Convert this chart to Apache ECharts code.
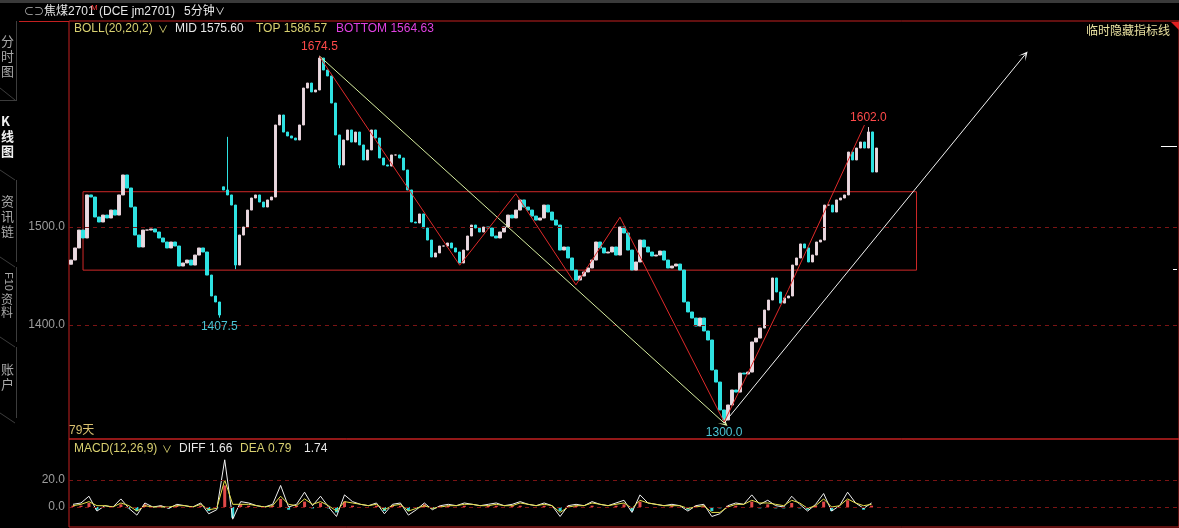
<!DOCTYPE html>
<html><head><meta charset="utf-8">
<script src="https://cdn.jsdelivr.net/npm/echarts@6/dist/echarts.min.js"></script>
<style>html,body{margin:0;padding:0;background:#000;overflow:hidden}#c{width:1179px;height:528px}</style>
</head><body><div id="c"></div>
<script>
// ---- price data (closes, one candle per slot) ----
const closes = [
1466.3,1478.6,1496.9,1488.8,1532.7,1530.6,1510.2,1505.1,1512.2,1509.2,
1517.3,1512.2,1532.7,1553.1,1539.8,1520.4,1491.8,1479.6,1496.9,1496.9,
1498.0,1494.9,1488.8,1484.7,1478.6,1484.7,1480.6,1460.2,1463.3,1466.3,
1461.2,1471.4,1478.6,1474.5,1451.0,1429.6,1423.5,1410.2,1537.8,1532.7,
1522.4,1461.2,1491.8,1500.0,1517.3,1529.6,1532.7,1525.5,1520.4,1527.6,
1530.6,1604.1,1614.3,1596.9,1592.9,1590.8,1588.8,1604.1,1641.8,1646.9,
1637.8,1639.8,1672.4,1660.2,1654.1,1626.5,1593.9,1563.3,1588.8,1599.0,
1586.7,1596.9,1583.7,1568.4,1578.6,1599.0,1590.8,1570.4,1563.3,1562.2,
1573.5,1573.5,1570.4,1558.2,1537.8,1505.1,1504.1,1513.3,1499.0,1486.7,
1469.4,1473.5,1480.6,1480.6,1483.7,1478.6,1474.5,1463.3,1476.5,1490.8,
1502.0,1499.0,1494.9,1500.0,1499.0,1490.8,1488.8,1494.9,1500.0,1512.2,
1509.2,1517.3,1527.6,1520.4,1517.3,1511.2,1507.1,1509.2,1522.4,1515.3,
1507.1,1502.0,1476.5,1479.6,1468.4,1456.1,1445.9,1450.0,1454.1,1458.2,
1466.3,1484.7,1478.6,1473.5,1474.5,1479.6,1471.4,1500.0,1493.9,1476.5,
1456.1,1464.3,1486.7,1479.6,1474.5,1470.4,1471.4,1475.5,1466.3,1458.2,
1460.2,1462.2,1456.1,1423.5,1413.3,1407.1,1399.0,1407.1,1393.9,1384.7,
1354.1,1341.8,1313.3,1303.1,1318.4,1333.7,1331.6,1351.0,1350.0,1352.0,
1382.7,1386.7,1396.9,1415.3,1425.5,1448.0,1433.7,1422.4,1427.6,1429.6,
1461.2,1468.4,1482.7,1478.6,1464.3,1471.4,1484.7,1486.7,1522.4,1522.4,
1515.3,1527.6,1529.6,1532.7,1576.5,1568.4,1580.6,1586.7,1580.6,1597.0,
1556.1,1580.6
];
const openOverrideIdx = [0, 38];
const openOverrideVal = [1462.0, 1541.0];
const wickIdx = [37, 39, 41, 62, 67, 163, 199];
const wickVal = [1407.5, 1592.0, 1457.0, 1674.5, 1560.0, 1300.0, 1602.0];

// ---- axis ticks ----
const priceTicks = [1400, 1500];
const macdTicks = [0, 20];

// ---- annotations (data space) ----
const labelIdx = [62, 37, 163, 199];
const labelVal = [1674.5, 1407.5, 1300.0, 1602.0];
const downLine = [[62, 1674.5], [163, 1300]];
const upLine = [[163, 1300], [238, 1675.5]];
const zigzag = [[62,1674],[97,1461],[111,1534],[126,1441],[137,1510],[163,1301],[179,1436],[198,1604]];
const boxIdx = [3, 211];
const boxPrice = [1536, 1456];
const rightMarks = [1582.7, 1457.1];

// ---- indicator readouts ----
const bollValues = [1575.60, 1586.57, 1564.63];
const macdValues = [1.66, 0.79, 1.74];

// ---- MACD (one value per macd slot) ----
const diff = [
2,3,8,-3,1,0,6,-1,-6,3,
0,1,-1,2,1,0,3,-5,-2,35,
-9,4,3,1,0,2,16,0,2,11,
1,8,0,-7,9,4,2,1,3,-5,
2,3,-6,-2,3,-2,1,2,1,3,
2,1,2,3,1,2,4,2,1,3,
1,-7,1,2,1,4,2,1,3,5,
-4,9,3,2,1,2,1,-3,1,2,
-7,-5,1,3,2,9,2,5,1,0,
8,2,-3,2,10,-3,1,11,3,-1,
3];
const dea = [
1,2,4,1,1,0,3,1,-3,1,
0,0,0,1,1,0,2,-2,-1,20,
2,2,2,1,0,1,8,2,1,6,
2,4,1,-3,4,3,2,1,2,-2,
1,2,-3,-1,1,-1,0,1,1,2,
2,1,1,2,1,1,3,2,1,2,
1,-4,0,1,1,3,2,1,2,3,
-1,5,3,2,1,1,1,-1,0,1,
-4,-4,0,2,2,5,3,3,2,1,
5,3,-1,1,6,0,1,6,3,1,
2];
const hist = [
1,1,3,-2,0,0,2,-1,-3,2,
0,1,-1,1,0,0,1,-3,-1,16,
-8,2,1,0,0,1,6,-2,1,4,
-1,3,-1,-4,4,1,0,0,1,-3,
1,1,-3,-1,2,-1,1,1,0,1,
0,0,1,1,0,1,1,0,0,1,
0,-3,1,1,0,1,0,0,1,2,
-3,4,0,0,0,1,0,-2,1,1,
-3,-1,1,1,0,4,-1,2,-1,-1,
3,-1,-2,1,4,-3,0,5,0,-2,
1];

const slotCount = 277;
const macdSlotCount = 139;
const slots = Array.from({length: slotCount}, (_, i) => String(i));
const macdSlots = Array.from({length: macdSlotCount}, (_, i) => String(i));

const ohlc = closes.map((c, i) => {
  let o = i > 0 ? closes[i - 1] : c;
  const k = openOverrideIdx.indexOf(i);
  if (k >= 0) o = openOverrideVal[k];
  let h = Math.max(o, c), l = Math.min(o, c);
  const w = wickIdx.indexOf(i);
  if (w >= 0) { if (wickVal[w] > h) h = wickVal[w]; else if (wickVal[w] < l) l = wickVal[w]; }
  return [o, c, l, h];
});

const FONT = '"Liberation Sans","Noto Sans CJK SC",sans-serif';
const CJK = '"Noto Sans CJK SC",sans-serif';
const arrowPath = 'path://M5,0 L10,10 L5,4 L0,10 Z';
const RED = '#c42020';
const GRIDRED = '#7a1414';

const tickLabel = (col) => ({show: true, position: 'start', distance: 4, color: col, fontSize: 12, fontFamily: FONT,
  formatter: p => Number(p.value).toFixed(1)});

const solid = (color) => ({type: 'solid', color: color, width: 1});
const markLines = [];
priceTicks.forEach(v => markLines.push({yAxis: v, lineStyle: {type: [4, 4], color: GRIDRED, width: 1}, label: tickLabel('#9c9c9c')}));
markLines.push([{coord: downLine[0], symbol: 'none'}, {coord: downLine[1], symbol: arrowPath, symbolSize: 9, lineStyle: solid('#d8eea0')}]);
markLines.push([{coord: upLine[0], symbol: 'none'}, {coord: upLine[1], symbol: arrowPath, symbolSize: 9, lineStyle: solid('#f2f2f2')}]);
for (let i = 0; i < zigzag.length - 1; i++) {
  markLines.push([{coord: zigzag[i], symbol: 'none'}, {coord: zigzag[i + 1], symbol: 'none', lineStyle: solid('#e02a2a')}]);
}
markLines.push([{coord: [272, rightMarks[0]], symbol: 'none'}, {coord: [276, rightMarks[0]], symbol: 'none', lineStyle: solid('#ffffff')}]);
markLines.push([{coord: [275, rightMarks[1]], symbol: 'none'}, {coord: [276, rightMarks[1]], symbol: 'none', lineStyle: solid('#ffffff')}]);

const labelColors = ['#ff4a4a', '#4cc4d4', '#4cc4d4', '#ff4a4a'];
const labelPos = ['top', 'bottom', 'bottom', 'top'];
const markPoints = labelIdx.map((ix, k) => ({
  coord: [ix, labelVal[k]], value: labelVal[k], symbol: 'circle', symbolSize: 1,
  itemStyle: {color: 'rgba(0,0,0,0)'},
  label: {show: true, position: labelPos[k], distance: 3, color: labelColors[k], fontSize: 12, fontFamily: FONT,
    formatter: p => Number(p.value).toFixed(1)}
}));

const macdMarkLines = macdTicks.map(v => ({yAxis: v, lineStyle: {type: [4, 4], color: GRIDRED, width: 1}, label: tickLabel('#9c9c9c')}));

function txt(x, y, text, fill, size, opts) {
  return Object.assign({type: 'text', x: x, y: y, silent: true, z: 100,
    style: Object.assign({text: text, fill: fill, fontSize: size || 12, fontFamily: FONT, verticalAlign: 'middle', textAlign: 'left'}, (opts && opts.style) || {})},
    (opts && opts.el) || {});
}
function ln(x1, y1, x2, y2, col) {
  return {type: 'line', silent: true, z: 100, shape: {x1: x1, y1: y1, x2: x2, y2: y2}, style: {stroke: col, lineWidth: 1}};
}

const graphics = [
  {type: 'rect', silent: true, z: 99, shape: {x: 0, y: 0, width: 1179, height: 3}, style: {fill: '#3a3a3a'}},
  ln(19, 21.5, 69, 21.5, RED),
  // title bar
  txt(24, 12, '⊂⊃', '#b8b8b8', 10),
  txt(44, 12, '焦煤2701', '#e6e6e6', 12),
  txt(91, 8, 'M', '#ff4040', 8),
  txt(99, 12, '(DCE jm2701)', '#e6e6e6', 12),
  txt(184, 12, '5分钟', '#e6e6e6', 12),
  txt(215, 12, '∨', '#e6e6e6', 10),
  // BOLL legend
  txt(74, 29, 'BOLL(20,20,2)', '#d8d070', 12),
  txt(158, 30, '∨', '#d8d070', 10),
  txt(175, 29, 'MID ' + bollValues[0].toFixed(2), '#e8e8e8', 12),
  txt(256, 29, 'TOP ' + bollValues[1].toFixed(2), '#d8d070', 12),
  txt(336, 29, 'BOTTOM ' + bollValues[2].toFixed(2), '#e040e0', 12),
  txt(1170, 30, '临时隐藏指标线', '#e8e0a0', 12, {style: {fontFamily: CJK, textAlign: 'right'}}),
  {type: 'polygon', silent: true, z: 100, shape: {points: [[1171, 22], [1179, 22], [1179, 30]]}, style: {fill: '#e02020'}},
  // days tag
  txt(69, 431, '79天', '#d8c070', 12),
  // MACD legend
  txt(74, 449, 'MACD(12,26,9)', '#d8d070', 12),
  txt(162, 450, '∨', '#d8d070', 10),
  txt(179, 449, 'DIFF ' + macdValues[0].toFixed(2), '#e8e8e8', 12),
  txt(240, 449, 'DEA ' + macdValues[1].toFixed(2), '#d8d070', 12),
  txt(304, 449, macdValues[2].toFixed(2), '#e8e8e8', 12),
  // sidebar tabs
  ln(16.5, 21, 16.5, 100, '#3c3c3c'), ln(0, 100.5, 17, 100.5, '#3c3c3c'), ln(0, 88, 15, 100, '#3c3c3c'),
  ln(0, 170, 15, 180, '#3c3c3c'), ln(16.5, 180, 16.5, 262, '#3c3c3c'),
  ln(0, 257, 15, 267, '#3c3c3c'), ln(16.5, 267, 16.5, 342, '#3c3c3c'),
  ln(0, 337, 15, 347, '#3c3c3c'), ln(16.5, 347, 16.5, 418, '#3c3c3c'),
  ln(0, 413, 15, 423, '#3c3c3c'),
  txt(1, 56, '分\n时\n图', '#a8a8a8', 13, {style: {fontFamily: CJK, lineHeight: 15}}),
  txt(1, 136, 'K\n线\n图', '#f0f0f0', 13, {style: {fontFamily: CJK, lineHeight: 15, fontWeight: 'bold'}}),
  txt(1, 216, '资\n讯\n链', '#a8a8a8', 13, {style: {fontFamily: CJK, lineHeight: 15}}),
  {type: 'text', x: 14, y: 272, rotation: -Math.PI / 2, silent: true, z: 100,
    style: {text: 'F10', fill: '#a8a8a8', fontSize: 11, fontFamily: FONT, verticalAlign: 'top', textAlign: 'left'}},
  txt(1, 306, '资\n料', '#a8a8a8', 12, {style: {fontFamily: CJK, lineHeight: 13}}),
  txt(1, 377, '账\n户', '#a8a8a8', 13, {style: {fontFamily: CJK, lineHeight: 15}})
];

const option = {
  backgroundColor: '#000',
  animation: false,
  grid: [
    {left: 69, right: 0, top: 21, height: 418, show: true, borderColor: RED, borderWidth: 1, backgroundColor: 'transparent'},
    {left: 69, right: 0, top: 439, height: 88, show: true, borderColor: RED, borderWidth: 1, backgroundColor: 'transparent'}
  ],
  xAxis: [
    {type: 'category', gridIndex: 0, data: slots, show: false},
    {type: 'category', gridIndex: 1, data: macdSlots, show: false}
  ],
  yAxis: [
    {type: 'value', gridIndex: 0, min: 1283.7, max: 1710.2, show: false, splitLine: {show: false}},
    {type: 'value', gridIndex: 1, min: -14.8, max: 50.4, show: false, splitLine: {show: false}}
  ],
  series: [
    {
      type: 'candlestick', xAxisIndex: 0, yAxisIndex: 0, data: ohlc, barWidth: 3,
      itemStyle: {color: '#e6dce2', borderColor: '#e6d0d8', color0: '#2ee2e2', borderColor0: '#2ee2e2', borderWidth: 1},
      markLine: {silent: true, symbol: ['none', 'none'], label: {show: false}, lineStyle: {type: 'solid'}, animation: false, data: markLines},
      markArea: {silent: true, label: {show: false},
        itemStyle: {color: 'rgba(0,0,0,0)', borderColor: '#d02828', borderWidth: 1},
        data: [[{coord: [boxIdx[0], boxPrice[0]]}, {coord: [boxIdx[1], boxPrice[1]]}]]},
      markPoint: {silent: true, animation: false, data: markPoints}
    },
    {
      type: 'bar', xAxisIndex: 1, yAxisIndex: 1, data: hist, barWidth: 3,
      itemStyle: {color: p => (p.value >= 0 ? '#e04848' : '#30d4d4')},
      markLine: {silent: true, symbol: ['none', 'none'], label: {show: false}, animation: false, data: macdMarkLines}
    },
    {type: 'line', xAxisIndex: 1, yAxisIndex: 1, data: diff, symbol: 'none', lineStyle: {color: '#f0f0f0', width: 1}},
    {type: 'line', xAxisIndex: 1, yAxisIndex: 1, data: dea, symbol: 'none', lineStyle: {color: '#e6e04a', width: 1}}
  ],
  graphic: graphics
};

const chart = echarts.init(document.getElementById('c'), null, {renderer: 'canvas'});
chart.setOption(option);
</script>
</body></html>
